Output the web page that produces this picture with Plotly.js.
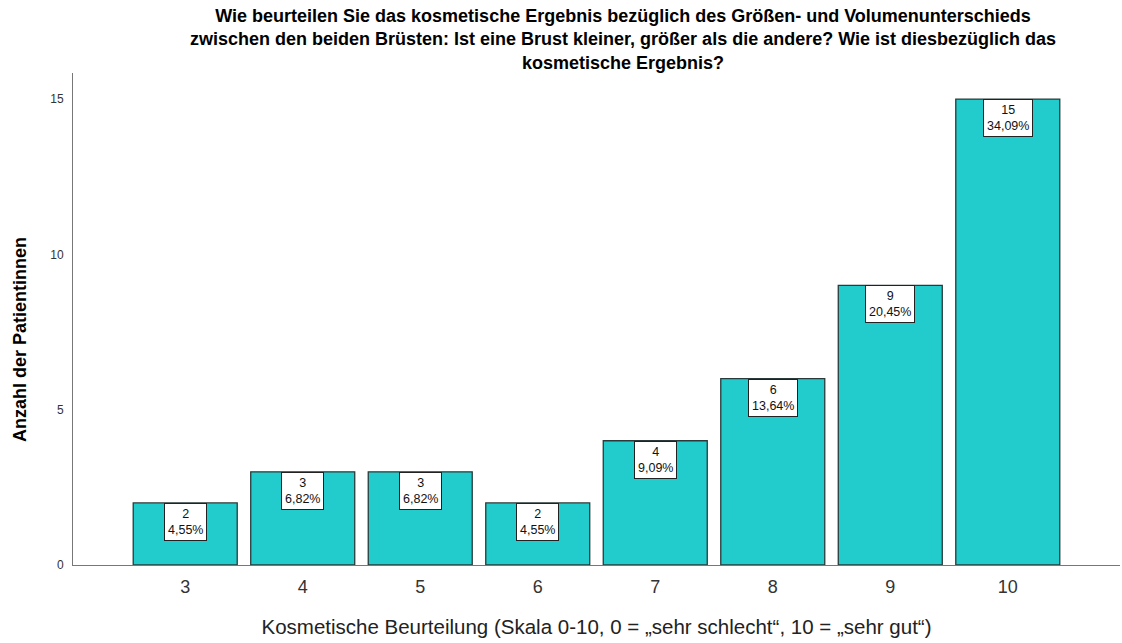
<!DOCTYPE html>
<html>
<head>
<meta charset="utf-8">
<script src="https://cdn.plot.ly/plotly-3.0.1.min.js"></script>
<style>html,body{margin:0;padding:0;background:#fff;}#chart{width:1122px;height:643px;}</style>
</head>
<body>
<div id="chart"></div>
<script>
const categories = ["3", "4", "5", "6", "7", "8", "9", "10"];
const counts = [2, 3, 3, 2, 4, 6, 9, 15];
const percents = ["4,55%", "6,82%", "6,82%", "4,55%", "9,09%", "13,64%", "20,45%", "34,09%"];
const yTicks = [0, 5, 10, 15];

const titleLines = [
  "Wie beurteilen Sie das kosmetische Ergebnis bezüglich des Größen- und Volumenunterschieds",
  "zwischen den beiden Brüsten: Ist eine Brust kleiner, größer als die andere? Wie ist diesbezüglich das",
  "kosmetische Ergebnis?"
];
const xTitle = "Kosmetische Beurteilung (Skala 0-10, 0 = „sehr schlecht“, 10 = „sehr gut“)";
const yTitle = "Anzahl der Patientinnen";

const font = "Liberation Sans, Arial, sans-serif";

const trace = {
  type: "bar",
  x: categories,
  y: counts,
  width: 0.885,
  marker: {color: "#22CCCC", line: {color: "#2a3a3a", width: 1.3}},
  hoverinfo: "skip"
};

const annotations = categories.map((c, i) => ({
  x: i, y: counts[i], xref: "x", yref: "y",
  text: counts[i] + "<br>" + percents[i],
  showarrow: false,
  yanchor: "top",
  xanchor: "center",
  bgcolor: "#ffffff",
  bordercolor: "#222222",
  borderwidth: 1,
  borderpad: 3,
  font: {family: font, size: 12.5, color: "#111"}
}));

// chart title (one multi-line text block)
annotations.push({
  text: titleLines.join("<br>"), xref: "paper", yref: "paper",
  x: 0.525, y: (565 - 4) / 492,
  xanchor: "center", yanchor: "top", showarrow: false,
  font: {family: font, size: 18, color: "#000", weight: "bold"}
});

// y-axis title
annotations.push({
  text: yTitle, xref: "paper", yref: "paper",
  x: -53 / 1047, y: (565 - 340) / 492,
  xanchor: "center", yanchor: "middle", showarrow: false, textangle: -90,
  font: {family: font, size: 18, color: "#000", weight: "bold"}
});

const layout = {
  width: 1122, height: 643,
  margin: {l: 73, r: 2, t: 73, b: 78},
  paper_bgcolor: "#fff", plot_bgcolor: "#fff",
  xaxis: {
    type: "category",
    range: [-0.955, 7.955],
    showline: true, linecolor: "#777", linewidth: 1,
    ticks: "", showgrid: false, zeroline: false,
    tickfont: {family: font, size: 18, color: "#333"},
    ticklabelstandoff: 5,
    title: {text: xTitle, font: {family: font, size: 20.5, color: "#222"}, standoff: 24}
  },
  yaxis: {
    range: [0, 15.84],
    tickvals: yTicks,
    showline: true, linecolor: "#777", linewidth: 1,
    ticks: "", showgrid: false, zeroline: false,
    tickfont: {family: font, size: 12, color: "#333"},
    ticklabelstandoff: 6
  },
  annotations: annotations,
  showlegend: false
};

Plotly.newPlot("chart", [trace], layout, {displayModeBar: false, staticPlot: true});
</script>
</body>
</html>
